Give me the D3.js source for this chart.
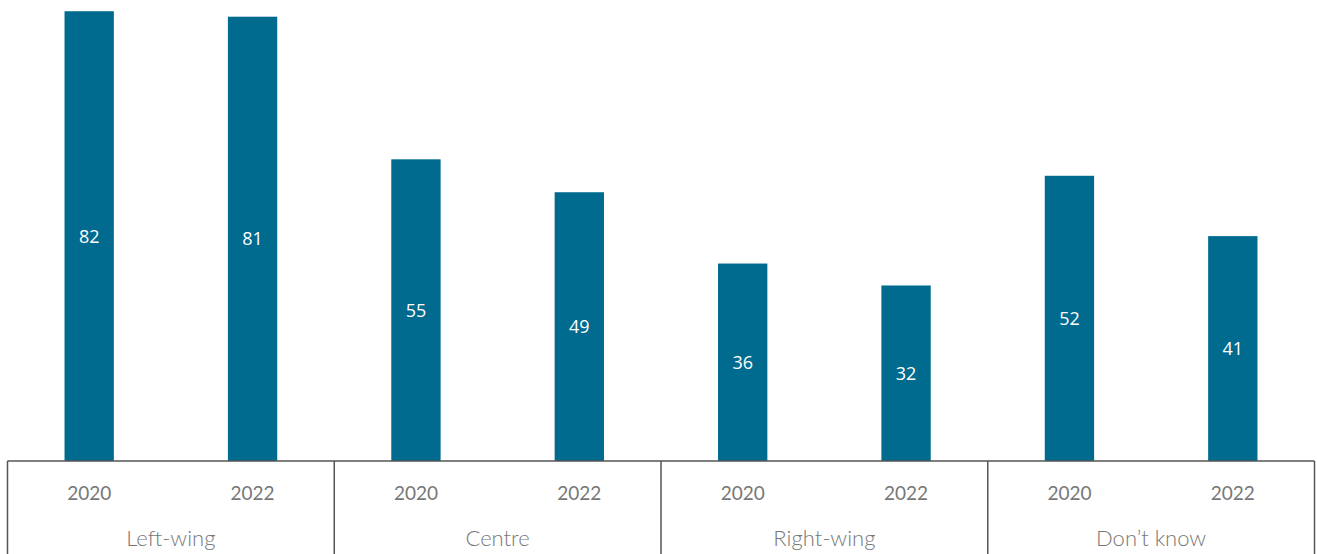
<!DOCTYPE html>
<html>
<head>
<meta charset="utf-8">
<script src="https://cdn.jsdelivr.net/npm/d3@7"></script>
<style>
  html, body { margin: 0; padding: 0; background: #fff; }
  svg { display: block; }
</style>
</head>
<body>
<svg id="chart" width="1317" height="554"></svg>
<script>
// Groups and the two survey years shown in each
const categories = ["Left-wing", "Centre", "Right-wing", "Don\u2019t know"];
const years = ["2020", "2022"];
const values2020 = [82, 55, 36, 52];
const values2022 = [81, 49, 32, 41];

const data = categories.map((c, i) => ({
  category: c,
  bars: [
    { year: years[0], value: values2020[i] },
    { year: years[1], value: values2022[i] }
  ]
}));

const svg = d3.select("#chart");
const left = 7.5, right = 1314.5, baseY = 461, bottom = 554;

const x0 = d3.scaleBand().domain(categories).range([left, right]).padding(0);
const x1 = d3.scaleBand().domain(years).range([0, x0.bandwidth()]).padding(0);
const y = d3.scaleLinear().domain([0, 84]).range([baseY, baseY - 84 * 5.485]);

const barW = x1.bandwidth() * 0.302;
const barColor = "#006a8f";

const groups = svg.selectAll("g.group")
  .data(data)
  .join("g")
  .attr("class", "group")
  .attr("transform", d => `translate(${x0(d.category)},0)`);

groups.selectAll("rect")
  .data(d => d.bars)
  .join("rect")
  .attr("x", d => x1(d.year) + x1.bandwidth() / 2 - barW / 2)
  .attr("width", barW)
  .attr("y", d => y(d.value))
  .attr("height", d => y(0) - y(d.value))
  .attr("fill", barColor);

// Value labels centred inside each bar
groups.selectAll("text.val")
  .data(d => d.bars)
  .join("text")
  .attr("class", "val")
  .attr("x", d => x1(d.year) + x1.bandwidth() / 2)
  .attr("y", d => (y(d.value) + y(0)) / 2)
  .attr("dy", "0.36em")
  .attr("text-anchor", "middle")
  .attr("font-family", "'Open Sans', sans-serif")
  .attr("font-size", 18)
  .attr("fill", "#ffffff")
  .text(d => d.value);

// Two-level category axis: baseline plus group separators
const axisColor = "#555555";
svg.append("line")
  .attr("x1", left).attr("x2", right)
  .attr("y1", baseY).attr("y2", baseY)
  .attr("stroke", axisColor).attr("stroke-width", 1.5);

const edges = categories.map(c => x0(c)).concat([x0.range()[1]]);
svg.selectAll("line.sep")
  .data(edges)
  .join("line")
  .attr("class", "sep")
  .attr("x1", d => d).attr("x2", d => d)
  .attr("y1", baseY).attr("y2", bottom)
  .attr("stroke", axisColor).attr("stroke-width", 1.5);

groups.selectAll("text.year")
  .data(d => d.bars)
  .join("text")
  .attr("class", "year")
  .attr("x", d => x1(d.year) + x1.bandwidth() / 2)
  .attr("y", 493)
  .attr("dy", "0.35em")
  .attr("text-anchor", "middle")
  .attr("font-family", "Lato, sans-serif")
  .attr("font-size", 19)
  .attr("fill", "#777777")
  .text(d => d.year);

groups.append("text")
  .attr("x", x0.bandwidth() / 2)
  .attr("y", 538)
  .attr("dy", "0.35em")
  .attr("text-anchor", "middle")
  .attr("font-family", "Lato, sans-serif")
  .attr("font-size", 22)
  .attr("font-weight", 300)
  .attr("fill", "#777777")
  .text(d => d.category);
</script>
</body>
</html>
